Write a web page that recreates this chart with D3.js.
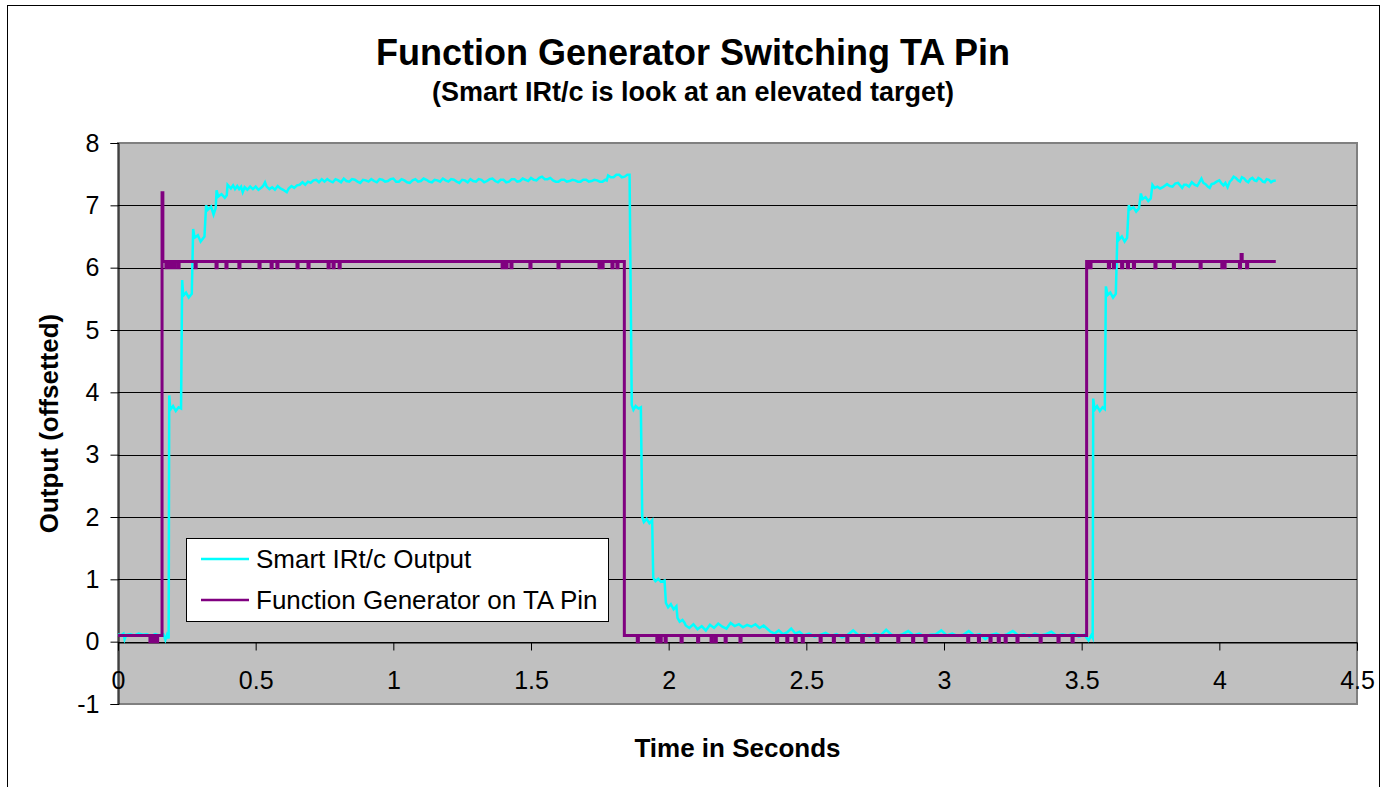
<!DOCTYPE html>
<html>
<head>
<meta charset="utf-8">
<script src="https://cdn.jsdelivr.net/npm/d3@7"></script>
<style>
  body { margin: 0; background: #fff; }
  text { font-family: "Liberation Sans", Arial, sans-serif; }
</style>
</head>
<body>
<svg id="chart" width="1384" height="787"></svg>
<script>
// tick values
const xTicks = [0, 0.5, 1, 1.5, 2, 2.5, 3, 3.5, 4, 4.5];
const yTicks = [-1, 0, 1, 2, 3, 4, 5, 6, 7, 8];

const seriesNames = ["Smart IRt/c Output", "Function Generator on TA Pin"];

// Smart IRt/c output, [time s, output]
const smartOutput = [
  [0.000, 0.12], [0.010, 0.10], [0.020, 0.13], [0.024, 0.04], [0.030, 0.11], [0.045, 0.12],
  [0.060, 0.10], [0.075, 0.13], [0.090, 0.11], [0.105, 0.12], [0.120, 0.09], [0.135, 0.12],
  [0.150, 0.10], [0.165, 0.12], [0.172, 0.03], [0.178, 0.11], [0.184, 0.05],
  [0.186, 3.95], [0.190, 3.72], [0.200, 3.78], [0.210, 3.70], [0.220, 3.76], [0.229, 3.74],
  [0.233, 5.80], [0.237, 5.55], [0.247, 5.60], [0.257, 5.52], [0.268, 5.58],
  [0.273, 6.62], [0.278, 6.48], [0.290, 6.52], [0.300, 6.42], [0.314, 6.50],
  [0.320, 7.00], [0.326, 6.93], [0.338, 6.98], [0.347, 6.85], [0.355, 6.96],
  [0.358, 7.24], [0.364, 7.14], [0.376, 7.18], [0.388, 7.12], [0.395, 7.16],
  [0.398, 7.33], [0.410, 7.27], [0.418, 7.32], [0.425, 7.26], [0.433, 7.31], [0.440, 7.26],
  [0.447, 7.30], [0.453, 7.21], [0.460, 7.29], [0.470, 7.25], [0.480, 7.30], [0.490, 7.26],
  [0.500, 7.30], [0.510, 7.25], [0.520, 7.28], [0.527, 7.31], [0.534, 7.37], [0.540, 7.30],
  [0.550, 7.26], [0.560, 7.29], [0.570, 7.25], [0.580, 7.31], [0.590, 7.27], [0.600, 7.25],
  [0.613, 7.21], [0.620, 7.27], [0.630, 7.31], [0.640, 7.28], [0.650, 7.32], [0.660, 7.33],
  [0.670, 7.37], [0.680, 7.33], [0.690, 7.38], [0.700, 7.36], [0.710, 7.40], [0.720, 7.41],
  [0.730, 7.37], [0.740, 7.42], [0.750, 7.38], [0.760, 7.42], [0.770, 7.39], [0.780, 7.37],
  [0.790, 7.42], [0.800, 7.40], [0.810, 7.37], [0.820, 7.43], [0.830, 7.39], [0.840, 7.38],
  [0.850, 7.42], [0.860, 7.41], [0.870, 7.38], [0.880, 7.36], [0.890, 7.41], [0.900, 7.40],
  [0.910, 7.38], [0.920, 7.42], [0.930, 7.39], [0.940, 7.37], [0.950, 7.42], [0.960, 7.41],
  [0.970, 7.38], [0.980, 7.39], [0.990, 7.42], [1.000, 7.43], [1.010, 7.38], [1.020, 7.38],
  [1.030, 7.42], [1.040, 7.40], [1.050, 7.37], [1.060, 7.36], [1.070, 7.40], [1.080, 7.42],
  [1.090, 7.38], [1.100, 7.39], [1.110, 7.43], [1.120, 7.41], [1.130, 7.38], [1.140, 7.37],
  [1.150, 7.41], [1.160, 7.40], [1.170, 7.38], [1.180, 7.43], [1.190, 7.40], [1.200, 7.38],
  [1.210, 7.42], [1.220, 7.41], [1.230, 7.38], [1.240, 7.36], [1.250, 7.41], [1.260, 7.40],
  [1.270, 7.37], [1.280, 7.42], [1.290, 7.39], [1.300, 7.38], [1.310, 7.42], [1.320, 7.41],
  [1.330, 7.37], [1.340, 7.39], [1.350, 7.42], [1.360, 7.43], [1.370, 7.39], [1.380, 7.37],
  [1.390, 7.41], [1.400, 7.41], [1.410, 7.37], [1.420, 7.38], [1.430, 7.42], [1.440, 7.42],
  [1.450, 7.38], [1.460, 7.39], [1.470, 7.43], [1.480, 7.41], [1.490, 7.39], [1.500, 7.44],
  [1.510, 7.41], [1.520, 7.40], [1.530, 7.44], [1.540, 7.46], [1.550, 7.42], [1.560, 7.42],
  [1.570, 7.44], [1.580, 7.40], [1.590, 7.38], [1.600, 7.38], [1.610, 7.41], [1.620, 7.41],
  [1.630, 7.38], [1.640, 7.39], [1.650, 7.41], [1.660, 7.40], [1.670, 7.38], [1.680, 7.38],
  [1.690, 7.41], [1.700, 7.41], [1.710, 7.38], [1.720, 7.39], [1.730, 7.41], [1.740, 7.40],
  [1.750, 7.38], [1.760, 7.38], [1.770, 7.41], [1.775, 7.40], [1.780, 7.48], [1.790, 7.45],
  [1.800, 7.45], [1.810, 7.49], [1.820, 7.49], [1.830, 7.45], [1.840, 7.46], [1.850, 7.49],
  [1.858, 7.49],
  [1.866, 3.80], [1.872, 3.72], [1.880, 3.78], [1.890, 3.74], [1.899, 3.76],
  [1.904, 2.00], [1.910, 1.92], [1.920, 1.97], [1.930, 1.90], [1.940, 1.95],
  [1.944, 1.02], [1.952, 0.97], [1.962, 1.01], [1.972, 0.96], [1.985, 0.98],
  [1.990, 0.62], [1.998, 0.55], [2.008, 0.60], [2.018, 0.52], [2.028, 0.57],
  [2.032, 0.38], [2.040, 0.32], [2.050, 0.35], [2.058, 0.30],
  [2.062, 0.26], [2.075, 0.22], [2.090, 0.28], [2.105, 0.20], [2.120, 0.25], [2.135, 0.18],
  [2.150, 0.27], [2.165, 0.22], [2.180, 0.29], [2.195, 0.24], [2.210, 0.21], [2.225, 0.30],
  [2.240, 0.25], [2.255, 0.28], [2.270, 0.23], [2.285, 0.27], [2.300, 0.24], [2.315, 0.28],
  [2.330, 0.22], [2.345, 0.26], [2.360, 0.20], [2.370, 0.16], [2.385, 0.13], [2.400, 0.18],
  [2.415, 0.12], [2.430, 0.15], [2.445, 0.21], [2.460, 0.13], [2.475, 0.16],
  [2.490, 0.10], [2.510, 0.13], [2.530, 0.08], [2.550, 0.11], [2.570, 0.14], [2.590, 0.09],
  [2.610, 0.12], [2.630, 0.07], [2.650, 0.11], [2.670, 0.18], [2.690, 0.10], [2.710, 0.12],
  [2.730, 0.08], [2.750, 0.13], [2.770, 0.10], [2.790, 0.19], [2.810, 0.11], [2.830, 0.09],
  [2.850, 0.12], [2.870, 0.17], [2.890, 0.10], [2.910, 0.13], [2.930, 0.08], [2.950, 0.11],
  [2.970, 0.12], [2.990, 0.18], [3.010, 0.10], [3.030, 0.13], [3.050, 0.09], [3.070, 0.11],
  [3.090, 0.17], [3.110, 0.10], [3.130, 0.12], [3.150, 0.04], [3.170, 0.11], [3.190, 0.13],
  [3.210, 0.09], [3.230, 0.12], [3.250, 0.17], [3.270, 0.10], [3.290, 0.12], [3.310, 0.08],
  [3.330, 0.13], [3.350, 0.10], [3.370, 0.12], [3.390, 0.16], [3.410, 0.09], [3.430, 0.12],
  [3.450, 0.10], [3.470, 0.13], [3.490, 0.08], [3.510, 0.11], [3.525, 0.02], [3.535, 0.10],
  [3.540, 0.06],
  [3.542, 3.90], [3.547, 3.72], [3.556, 3.78], [3.566, 3.70], [3.576, 3.76], [3.584, 3.73],
  [3.588, 5.70], [3.594, 5.56], [3.604, 5.60], [3.614, 5.52], [3.624, 5.58],
  [3.630, 6.57], [3.636, 6.45], [3.646, 6.50], [3.656, 6.42], [3.665, 6.48],
  [3.671, 7.00], [3.677, 6.94], [3.688, 6.97], [3.698, 6.90], [3.708, 6.95],
  [3.715, 7.19], [3.721, 7.10], [3.732, 7.13], [3.742, 7.07], [3.751, 7.11],
  [3.757, 7.33], [3.765, 7.28], [3.775, 7.30], [3.785, 7.27], [3.795, 7.29],
  [3.810, 7.34], [3.820, 7.31], [3.830, 7.30], [3.840, 7.35], [3.850, 7.36], [3.865, 7.28],
  [3.872, 7.33], [3.880, 7.33], [3.890, 7.30], [3.900, 7.37], [3.910, 7.33], [3.920, 7.31],
  [3.935, 7.43], [3.942, 7.36], [3.950, 7.34], [3.958, 7.30], [3.965, 7.28], [3.972, 7.34],
  [3.980, 7.35], [3.990, 7.38], [4.000, 7.40], [4.008, 7.35], [4.015, 7.32], [4.022, 7.36],
  [4.030, 7.29], [4.038, 7.38], [4.045, 7.41], [4.052, 7.46], [4.060, 7.44], [4.068, 7.40],
  [4.075, 7.38], [4.082, 7.45], [4.090, 7.43], [4.098, 7.39], [4.105, 7.37], [4.112, 7.42],
  [4.120, 7.44], [4.128, 7.40], [4.135, 7.39], [4.142, 7.44], [4.150, 7.42], [4.158, 7.38],
  [4.165, 7.37], [4.172, 7.42], [4.180, 7.41], [4.188, 7.37], [4.195, 7.39], [4.205, 7.40]
];

// function generator on TA pin, [time s, level] (held until next point)
const generatorPin = [
  [0.000, 0.1], [0.116, 0.0], [0.121, 0.1], [0.127, 0.0], [0.131, 0.1], [0.140, 0.0], [0.144, 0.1],
  [0.160, 7.2], [0.163, 6.1],
  [0.174, 6.0], [0.178, 6.1], [0.185, 6.0], [0.189, 6.1], [0.196, 6.0], [0.200, 6.1],
  [0.203, 6.0], [0.207, 6.1], [0.218, 6.0], [0.222, 6.1], [0.280, 6.0], [0.284, 6.1],
  [0.356, 6.0], [0.360, 6.1], [0.392, 6.0], [0.396, 6.1], [0.439, 6.0], [0.443, 6.1],
  [0.512, 6.0], [0.516, 6.1], [0.556, 6.0], [0.560, 6.1], [0.577, 6.0], [0.581, 6.1],
  [0.650, 6.0], [0.654, 6.1], [0.690, 6.0], [0.694, 6.1], [0.763, 6.0], [0.767, 6.1],
  [0.781, 6.0], [0.785, 6.1], [0.803, 6.0], [0.807, 6.1], [1.395, 6.0], [1.399, 6.1],
  [1.409, 6.0], [1.413, 6.1], [1.427, 6.0], [1.431, 6.1], [1.496, 6.0], [1.500, 6.1],
  [1.598, 6.0], [1.602, 6.1], [1.747, 6.0], [1.754, 6.1], [1.758, 6.0], [1.762, 6.1],
  [1.794, 6.0], [1.798, 6.1], [1.812, 6.0], [1.816, 6.1],
  [1.839, 0.1],
  [1.886, 0.0], [1.890, 0.1], [1.957, 0.0], [1.961, 0.1], [1.969, 0.0], [1.973, 0.1],
  [1.987, 0.0], [1.991, 0.1], [2.045, 0.0], [2.049, 0.1], [2.105, 0.0], [2.109, 0.1],
  [2.154, 0.0], [2.158, 0.1], [2.169, 0.0], [2.173, 0.1], [2.205, 0.0], [2.209, 0.1],
  [2.259, 0.0], [2.263, 0.1], [2.392, 0.0], [2.396, 0.1], [2.429, 0.0], [2.433, 0.1],
  [2.459, 0.0], [2.463, 0.1], [2.485, 0.0], [2.489, 0.1], [2.550, 0.0], [2.554, 0.1],
  [2.598, 0.0], [2.602, 0.1], [2.647, 0.0], [2.651, 0.1], [2.701, 0.0], [2.707, 0.1],
  [2.756, 0.0], [2.760, 0.1], [2.832, 0.0], [2.836, 0.1], [2.886, 0.0], [2.890, 0.1],
  [2.931, 0.0], [2.935, 0.1], [3.086, 0.0], [3.090, 0.1], [3.125, 0.0], [3.129, 0.1],
  [3.167, 0.0], [3.171, 0.1], [3.197, 0.0], [3.201, 0.1], [3.222, 0.0], [3.226, 0.1],
  [3.265, 0.0], [3.269, 0.1], [3.349, 0.0], [3.353, 0.1], [3.414, 0.0], [3.418, 0.1],
  [3.465, 0.0], [3.469, 0.1],
  [3.518, 6.1],
  [3.524, 6.0], [3.528, 6.1], [3.530, 6.0], [3.534, 6.1], [3.597, 6.0], [3.601, 6.1],
  [3.615, 6.0], [3.619, 6.1], [3.645, 6.0], [3.649, 6.1], [3.666, 6.0], [3.670, 6.1],
  [3.688, 6.0], [3.692, 6.1], [3.766, 6.0], [3.770, 6.1], [3.833, 6.0], [3.837, 6.1],
  [3.930, 6.0], [3.934, 6.1], [4.009, 6.0], [4.013, 6.1], [4.017, 6.0], [4.021, 6.1],
  [4.073, 6.0], [4.077, 6.1], [4.079, 6.21], [4.083, 6.1], [4.099, 6.0], [4.103, 6.1],
  [4.205, 6.1]
];

const colors = ["#00ffff", "#800080"];

const svg = d3.select("#chart");

// plot area
const plot = { left: 118, top: 143, width: 1239, height: 561 };

// outer chart border
svg.append("rect")
  .attr("x", 7.5).attr("y", 5.5)
  .attr("width", 1372).attr("height", 800)
  .attr("fill", "#fff").attr("stroke", "#000").attr("stroke-width", 1);

const x = d3.scaleLinear().domain([0, 4.5]).range([plot.left, plot.left + plot.width]);
const y = d3.scaleLinear().domain([-1, 8]).range([plot.top + plot.height, plot.top]);

svg.append("rect")
  .attr("x", plot.left).attr("y", plot.top)
  .attr("width", plot.width).attr("height", plot.height)
  .attr("fill", "#c0c0c0").attr("stroke", "#808080").attr("stroke-width", 2);

// gridlines
svg.append("g")
  .selectAll("line")
  .data(yTicks.filter(d => d > -1 && d < 8))
  .join("line")
  .attr("x1", plot.left).attr("x2", plot.left + plot.width)
  .attr("y1", d => Math.round(y(d)) + 0.5).attr("y2", d => Math.round(y(d)) + 0.5)
  .attr("stroke", "#000").attr("stroke-width", 1);

// y axis
const yAxis = d3.axisLeft(y).tickValues(yTicks).tickSize(8).tickPadding(11).tickFormat(d => d);
const gy = svg.append("g")
  .attr("transform", `translate(${plot.left + 0.5},0)`)
  .call(yAxis);
gy.selectAll("text").attr("font-size", 25).attr("fill", "#000").attr("font-family", "Liberation Sans, Arial, sans-serif");
gy.selectAll("line, path").attr("stroke", "#000");

// x axis crosses at y = 0
const xAxis = d3.axisBottom(x).tickValues(xTicks).tickSize(8).tickPadding(21).tickFormat(d => d);
const gx = svg.append("g")
  .attr("transform", `translate(0,${Math.round(y(0)) + 0.5})`)
  .call(xAxis);
gx.selectAll("text").attr("font-size", 25).attr("fill", "#000").attr("font-family", "Liberation Sans, Arial, sans-serif");
gx.selectAll("line, path").attr("stroke", "#000");

// series
const smartLine = d3.line()
  .x(d => x(d[0]))
  .y(d => y(d[1]));

const genLine = d3.line()
  .x(d => x(d[0]))
  .y(d => y(d[1]))
  .curve(d3.curveStepAfter);

svg.append("path")
  .datum(smartOutput)
  .attr("d", smartLine)
  .attr("fill", "none")
  .attr("stroke", colors[0])
  .attr("stroke-width", 2.5);

svg.append("path")
  .datum(generatorPin)
  .attr("d", genLine)
  .attr("fill", "none")
  .attr("stroke", colors[1])
  .attr("stroke-width", 3);

// titles
svg.append("text")
  .attr("x", 693).attr("y", 65)
  .attr("text-anchor", "middle")
  .attr("font-size", 36).attr("font-weight", "bold")
  .text("Function Generator Switching TA Pin");

svg.append("text")
  .attr("x", 693).attr("y", 101)
  .attr("text-anchor", "middle")
  .attr("font-size", 27).attr("font-weight", "bold")
  .text("(Smart IRt/c is look at an elevated target)");

svg.append("text")
  .attr("x", plot.left + plot.width / 2).attr("y", 757)
  .attr("text-anchor", "middle")
  .attr("font-size", 26).attr("font-weight", "bold")
  .text("Time in Seconds");

svg.append("g")
  .attr("transform", `translate(49, ${plot.top + plot.height / 2})`)
  .append("text")
  .attr("text-anchor", "middle")
  .attr("transform", "rotate(-90)")
  .attr("dy", "0.35em")
  .attr("font-size", 26).attr("font-weight", "bold")
  .text("Output (offsetted)");

// legend
const legend = svg.append("g").attr("transform", "translate(186,538)");
legend.append("rect")
  .attr("x", 0.5).attr("y", 0.5)
  .attr("width", 422).attr("height", 83)
  .attr("fill", "#fff").attr("stroke", "#000").attr("stroke-width", 1);

const items = legend.selectAll("g.item")
  .data(seriesNames)
  .join("g")
  .attr("class", "item")
  .attr("transform", (d, i) => `translate(0, ${21 + i * 41})`);

items.append("line")
  .attr("x1", 15).attr("x2", 63)
  .attr("stroke", (d, i) => colors[i])
  .attr("stroke-width", 2.5);

items.append("text")
  .attr("x", 70).attr("dy", "0.35em")
  .attr("font-size", 26)
  .text(d => d);
</script>
</body>
</html>
